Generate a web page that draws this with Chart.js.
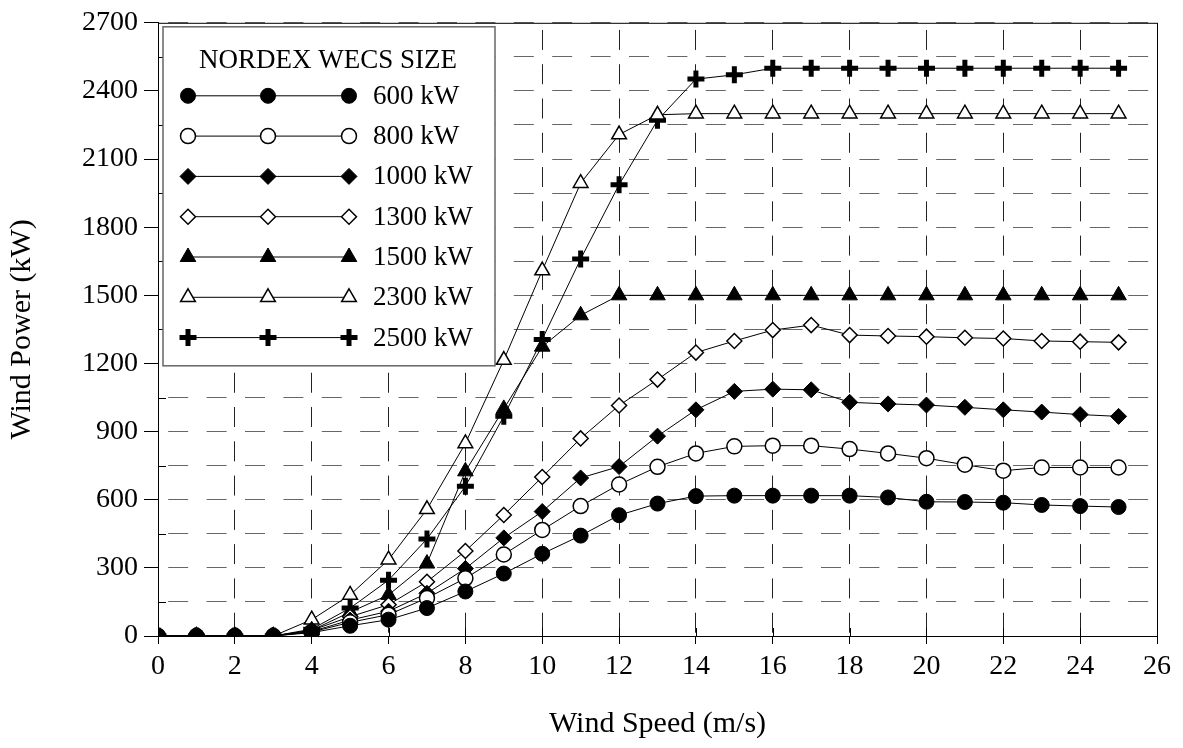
<!DOCTYPE html>
<html>
<head>
<meta charset="utf-8">
<script src="https://cdn.jsdelivr.net/npm/chart.js@4.4.1/dist/chart.umd.min.js"></script>
<style>
    html, body { margin: 0; padding: 0; background: #fff; }
</style>
</head>
<body>
<canvas id="chartPower" width="1183" height="748"></canvas>
<script>
// Wind speed (m/s) and power output (kW) of each NORDEX turbine
const windSpeeds = [0, 1, 2, 3, 4, 5, 6, 7, 8, 9, 10, 11, 12, 13, 14, 15, 16, 17, 18, 19, 20, 21, 22, 23, 24, 25];
const power600 = [0, 0, 0, 0, 15, 45, 72, 123, 196, 275, 362, 442, 532, 583, 616, 618, 618, 618, 618, 610, 591, 590, 587, 577, 572, 568];
const power800 = [0, 0, 0, 0, 18, 60, 94, 167, 254, 359, 467, 572, 667, 745, 804, 835, 838, 838, 823, 804, 783, 754, 728, 742, 742, 742];
const power1000 = [0, 0, 0, 0, 20, 70, 109, 188, 297, 432, 548, 696, 746, 880, 996, 1077, 1087, 1084, 1029, 1022, 1017, 1007, 996, 986, 975, 967];
const power1300 = [0, 0, 0, 0, 25, 85, 138, 239, 374, 533, 700, 870, 1015, 1129, 1248, 1299, 1347, 1369, 1325, 1321, 1318, 1313, 1310, 1299, 1296, 1293];
const power1500 = [0, 0, 0, 0, 25, 105, 181, 319, 725, 1000, 1274, 1412, 1500, 1500, 1500, 1500, 1500, 1500, 1500, 1500, 1500, 1500, 1500, 1500, 1500, 1500];
const power2300 = [0, 0, 0, 0, 72, 181, 336, 558, 848, 1215, 1609, 1994, 2208, 2295, 2300, 2300, 2300, 2300, 2300, 2300, 2300, 2300, 2300, 2300, 2300, 2300];
const power2500 = [0, 0, 0, 0, 30, 123, 246, 427, 659, 968, 1306, 1660, 1987, 2271, 2452, 2471, 2500, 2500, 2500, 2500, 2500, 2500, 2500, 2500, 2500, 2500];
const seriesNames = ['600 kW', '800 kW', '1000 kW', '1300 kW', '1500 kW', '2300 kW', '2500 kW'];
const yTicks = [0, 300, 600, 900, 1200, 1500, 1800, 2100, 2400, 2700];

const serif = 'Liberation Serif';
Chart.defaults.font.family = serif;
Chart.defaults.color = '#000';

function toPoints(values) {
    return windSpeeds.map((s, i) => ({x: s, y: values[i]}));
}

function series(label, values, style, radius, filled, pointWidth) {
    return {
        label: label,
        data: toPoints(values),
        borderColor: '#000',
        borderWidth: 1,
        pointStyle: style,
        pointRadius: radius,
        pointHoverRadius: radius,
        pointBackgroundColor: filled ? '#000' : '#fff',
        pointBorderColor: '#000',
        pointBorderWidth: pointWidth,
        fill: false,
        tension: 0
    };
}

// Frame round the plot and the boxed legend with three markers per entry
const framePlugin = {
    id: 'frame',
    beforeDatasetsDraw(chart) {
        const {ctx, chartArea: a, scales} = chart;
        ctx.save();
        ctx.strokeStyle = '#000';
        ctx.lineWidth = 1;
        ctx.strokeRect(a.left + 0.5, a.top + 0.5, a.right - a.left, a.bottom - a.top);
        ctx.beginPath();
        for (let v = 0; v <= 26; v += 2) {
            const px = Math.round(scales.x.getPixelForValue(v)) + 0.5;
            ctx.moveTo(px, a.bottom);
            ctx.lineTo(px, a.bottom - 8);
        }
        for (let v = 150; v < 2700; v += 300) {
            const py = Math.round(scales.y.getPixelForValue(v)) + 0.5;
            ctx.moveTo(a.left, py);
            ctx.lineTo(a.left + 8, py);
        }
        ctx.stroke();
        ctx.restore();
    },
    afterDatasetsDraw(chart) {
        const {ctx, chartArea: a} = chart;
        const bx = a.left + 5, by = a.top + 4, bw = 332, bh = 339;
        ctx.save();
        ctx.fillStyle = '#fff';
        ctx.fillRect(bx, by, bw, bh);
        ctx.strokeStyle = '#666';
        ctx.lineWidth = 1.5;
        ctx.strokeRect(bx, by, bw, bh);
        ctx.fillStyle = '#000';
        ctx.textAlign = 'center';
        ctx.textBaseline = 'middle';
        ctx.font = '27px "' + serif + '"';
        ctx.fillText('NORDEX WECS SIZE', bx + 165, by + 34);
        const marks = [bx + 25, bx + 105, bx + 186];
        chart.data.datasets.forEach((ds, i) => {
            const ly = by + 69 + i * 40.3;
            ctx.strokeStyle = '#000';
            ctx.lineWidth = 1;
            ctx.beginPath();
            ctx.moveTo(marks[0], ly);
            ctx.lineTo(marks[2], ly);
            ctx.stroke();
            for (const mx of marks) {
                ctx.fillStyle = ds.pointBackgroundColor;
                ctx.strokeStyle = ds.pointBorderColor;
                ctx.lineWidth = ds.pointBorderWidth;
                Chart.helpers.drawPoint(ctx, {
                    pointStyle: ds.pointStyle,
                    radius: ds.pointRadius,
                    borderWidth: ds.pointBorderWidth,
                    rotation: 0
                }, mx, ly);
            }
            ctx.fillStyle = '#000';
            ctx.textAlign = 'left';
            ctx.fillText(ds.label, bx + 210, ly + 1);
        });
        ctx.restore();
    }
};

new Chart('chartPower', {
    type: 'line',
    data: {
        datasets: [
            series(seriesNames[0], power600, 'circle', 7.5, true, 1),
            series(seriesNames[1], power800, 'circle', 7.5, false, 1.5),
            series(seriesNames[2], power1000, 'rectRot', 8, true, 1),
            series(seriesNames[3], power1300, 'rectRot', 7.5, false, 1.5),
            series(seriesNames[4], power1500, 'triangle', 9, true, 1),
            series(seriesNames[5], power2300, 'triangle', 8.5, false, 1.5),
            series(seriesNames[6], power2500, 'cross', 8.5, true, 5)
        ]
    },
    options: {
        responsive: false,
        animation: false,
        layout: {
            padding: {top: 18, right: 26, left: 0, bottom: 0}
        },
        plugins: {
            legend: {display: false},
            tooltip: {enabled: false}
        },
        scales: {
            x: {
                type: 'linear',
                min: 0,
                max: 26,
                afterFit: scale => { scale.height = 112; },
                ticks: {stepSize: 2, font: {size: 28}, padding: 6},
                grid: {
                    color: '#222',
                    lineWidth: 1,
                    tickLength: 8,
                    tickColor: '#000',
                    tickBorderDash: []
                },
                // gaps of the vertical dashes fall on the horizontal grid lines
                border: {display: true, color: '#000', width: 1, dash: [20, 14.28], dashOffset: 27.14},
                title: {
                    display: true,
                    text: 'Wind Speed (m/s)',
                    font: {size: 30},
                    padding: {top: 0, bottom: 6}
                }
            },
            y: {
                min: 0,
                max: 2700,
                afterFit: scale => { scale.width = 158; },
                ticks: {
                    stepSize: 150,
                    autoSkip: false,
                    font: {size: 28},
                    padding: 6,
                    callback: v => (yTicks.includes(v) ? v : '')
                },
                grid: {
                    color: '#666',
                    lineWidth: 1,
                    tickLength: 14,
                    tickColor: c => (c.tick && c.tick.value % 300 === 0 ? '#000' : 'rgba(0,0,0,0)'),
                    tickBorderDash: []
                },
                border: {display: true, color: '#000', width: 1, dash: [20, 18.4], dashOffset: 29.2},
                title: {
                    display: true,
                    text: 'Wind Power (kW)',
                    font: {size: 30},
                    padding: {top: 4, bottom: 0}
                }
            }
        }
    },
    plugins: [framePlugin]
});
</script>
</body>
</html>
